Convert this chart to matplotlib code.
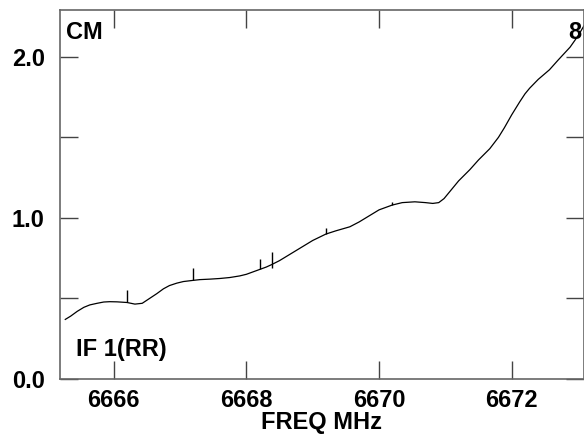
import matplotlib.pyplot as plt

plt.rcParams['font.family'] = ['Liberation Sans', 'DejaVu Sans']
plt.rcParams['font.weight'] = 'bold'

# spectrum baseline
freq = [6665.27, 6665.35, 6665.45, 6665.55, 6665.64, 6665.75, 6665.85, 6665.94,
        6666.05, 6666.2, 6666.32, 6666.43, 6666.54, 6666.65, 6666.75, 6666.84,
        6666.95, 6667.05, 6667.19, 6667.3, 6667.45, 6667.6, 6667.75, 6667.9,
        6668.0, 6668.1, 6668.2, 6668.3, 6668.38, 6668.5, 6668.6, 6668.7,
        6668.8, 6668.9, 6669.0, 6669.1, 6669.2, 6669.35, 6669.56, 6669.7,
        6669.86, 6670.0, 6670.2, 6670.35, 6670.54, 6670.7, 6670.81, 6670.9,
        6670.98, 6671.07, 6671.2, 6671.37, 6671.5, 6671.67, 6671.8, 6671.89,
        6672.0, 6672.12, 6672.2, 6672.27, 6672.4, 6672.57, 6672.7, 6672.88,
        6673.0, 6673.1]
flux = [0.37, 0.39, 0.42, 0.445, 0.46, 0.47, 0.478, 0.48,
        0.479, 0.475, 0.465, 0.47, 0.50, 0.53, 0.56, 0.58,
        0.595, 0.605, 0.612, 0.617, 0.62, 0.624, 0.63, 0.64,
        0.65, 0.665, 0.68, 0.695, 0.71, 0.735, 0.76, 0.785,
        0.81, 0.835, 0.86, 0.88, 0.90, 0.92, 0.945, 0.975,
        1.015, 1.05, 1.08, 1.095, 1.10, 1.095, 1.09, 1.095,
        1.12, 1.165, 1.23, 1.30, 1.36, 1.43, 1.50, 1.56,
        1.64, 1.72, 1.77, 1.805, 1.86, 1.92, 1.98, 2.06,
        2.13, 2.20]

# narrow spikes on the baseline
spike_freq = [6666.2, 6667.19, 6668.2, 6668.38, 6669.2, 6670.2]
spike_base = [0.475, 0.612, 0.68, 0.69, 0.90, 1.08]
spike_top = [0.55, 0.69, 0.745, 0.79, 0.94, 1.10]

xticks = [6666, 6668, 6670, 6672]
yticks = [0.0, 1.0, 2.0]
yminor = [0.5, 1.5]

fig = plt.figure(figsize=(5.84, 4.34), dpi=100)
ax = fig.add_axes([0.1027, 0.1267, 0.8973, 0.850])

ax.plot(freq, flux, color='black', lw=0.9)
ax.vlines(spike_freq, spike_base, spike_top, color='black', lw=1.0)

ax.set_xlim(6665.19, 6673.09)
ax.set_ylim(0, 2.29)
ax.set_xticks(xticks)
ax.set_xticklabels([str(t) for t in xticks])
ax.set_yticks(yticks)
ax.set_yticklabels(['%.1f' % t for t in yticks])
ax.set_yticks(yminor, minor=True)

for s in ax.spines.values():
    s.set_color('#666666')
    s.set_linewidth(1.2)

ax.tick_params(axis='both', which='both', direction='in', length=13,
               color='#444444', width=1, top=True, right=True)
ax.tick_params(axis='x', labelsize=17, pad=7)
ax.tick_params(axis='y', labelsize=17, pad=11)

ax.set_xlabel('FREQ MHz', fontsize=17, fontweight='bold')
ax.xaxis.set_label_coords(0.5, -0.088)
ax.text(0.012, 0.97, 'CM', transform=ax.transAxes, fontsize=17,
        fontweight='bold', va='top', ha='left')
ax.text(0.995, 0.97, '8', transform=ax.transAxes, fontsize=17,
        fontweight='bold', va='top', ha='right')
ax.text(0.03, 0.05, 'IF 1(RR)', transform=ax.transAxes, fontsize=17,
        fontweight='bold', va='bottom', ha='left')

fig.savefig('out.png', dpi=100)
